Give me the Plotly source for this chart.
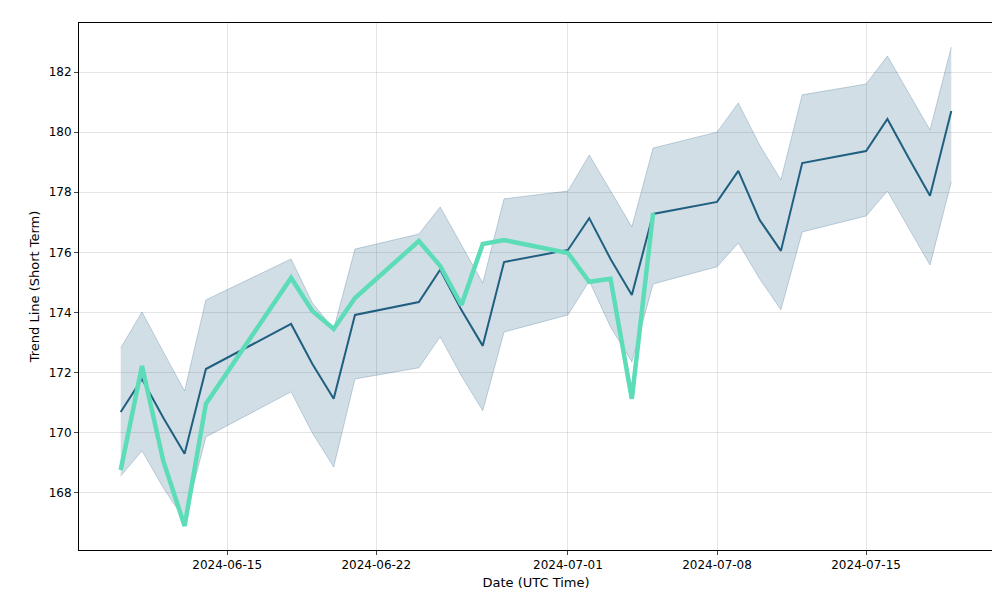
import plotly.graph_objects as go

dates = ["2024-06-10","2024-06-11","2024-06-12","2024-06-13","2024-06-14","2024-06-18","2024-06-19","2024-06-20","2024-06-21",
         "2024-06-24","2024-06-25","2024-06-26","2024-06-27","2024-06-28","2024-07-01","2024-07-02","2024-07-03","2024-07-04","2024-07-05",
         "2024-07-08","2024-07-09","2024-07-10","2024-07-11","2024-07-12","2024-07-15","2024-07-16","2024-07-17","2024-07-18","2024-07-19"]
trend = [170.69,171.79,170.5,169.3,172.12,173.62,172.29,171.13,173.92,174.35,175.42,174.08,172.89,175.68,176.08,177.14,175.78,174.58,177.28,
         177.68,178.71,177.08,176.05,178.97,179.37,180.44,179.14,177.88,180.70]
upper = [172.82,174.02,172.69,171.39,174.42,175.78,174.32,173.45,176.11,176.61,177.51,176.25,174.98,177.78,178.04,179.24,178.04,176.85,179.47,
         180.0,180.97,179.57,178.41,181.24,181.6,182.53,181.3,180.07,182.83]
lower = [168.56,169.4,168.17,167.1,169.86,171.36,169.99,168.86,171.79,172.16,173.19,171.89,170.73,173.35,173.92,175.05,173.52,172.36,174.95,
         175.52,176.31,175.12,174.09,176.68,177.21,178.04,176.81,175.58,178.34]
price = [168.76,172.22,169.06,166.9,170.96,175.15,174.05,173.45,174.48,176.38,175.55,174.25,176.28,176.41,175.98,175.02,175.12,171.13,177.31]

fig = go.Figure()
fig.add_trace(go.Scatter(x=dates, y=upper, mode="lines", line=dict(color="rgba(30,90,130,0.25)", width=1), showlegend=False))
fig.add_trace(go.Scatter(x=dates, y=lower, mode="lines", line=dict(color="rgba(30,90,130,0.25)", width=1),
                         fill="tonexty", fillcolor="rgba(30,90,130,0.2)", showlegend=False))
fig.add_trace(go.Scatter(x=dates, y=trend, mode="lines", line=dict(color="#1f5f80", width=2), showlegend=False))
fig.add_trace(go.Scatter(x=dates[:len(price)], y=price, mode="lines", line=dict(color="#5ddcb8", width=4.5), showlegend=False))

axis = dict(showline=True, linecolor="black", linewidth=1, mirror=True, ticks="outside", ticklen=4, automargin=False,
            gridcolor="rgba(0,0,0,0.1)", zeroline=False, tickfont=dict(size=12, color="black"))
fig.update_layout(
    width=1000, height=600, margin=dict(l=71, r=15, t=15, b=58, autoexpand=False),
    plot_bgcolor="white", paper_bgcolor="white",
    font=dict(family="DejaVu Sans", size=12, color="black"),
    xaxis=dict(axis, range=["2024-06-08 01:00", "2024-07-20 23:00"],
               tickvals=["2024-06-15","2024-06-22","2024-07-01","2024-07-08","2024-07-15"],
               ticktext=["2024-06-15","2024-06-22","2024-07-01","2024-07-08","2024-07-15"],
               title=dict(text="Date (UTC Time)", standoff=6, font=dict(size=13))),
    yaxis=dict(axis, range=[166.1, 183.63], dtick=2, title=dict(text="Trend Line (Short Term)", standoff=6, font=dict(size=13))),
)
fig.write_html("out.html")
